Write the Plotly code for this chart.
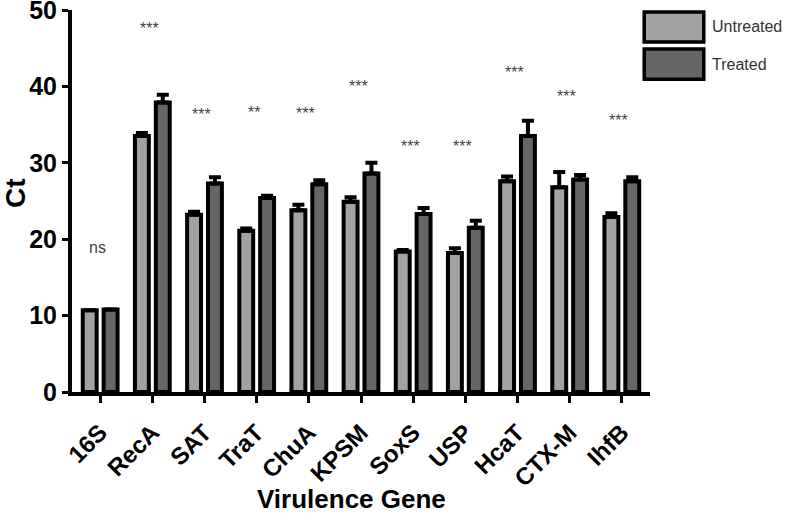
import plotly.graph_objects as go

genes = ["16S", "RecA", "SAT", "TraT", "ChuA", "KPSM", "SoxS", "USP", "HcaT", "CTX-M", "IhfB"]
untreated = [10.7, 33.5, 23.2, 21.1, 23.8, 24.9, 18.4, 18.2, 27.6, 26.8, 22.9]
treated = [10.8, 37.9, 27.3, 25.4, 27.2, 28.6, 23.3, 21.5, 33.5, 27.8, 27.6]
err_untreated = [0.0, 0.4, 0.4, 0.3, 0.7, 0.6, 0.2, 0.6, 0.6, 2.0, 0.5]
err_treated = [0.0, 1.0, 0.8, 0.3, 0.5, 1.4, 0.8, 0.9, 2.0, 0.6, 0.5]
sig_labels = ["ns", "***", "***", "**", "***", "***", "***", "***", "***", "***", "***"]
sig_y = [18.9, 48.1, 36.9, 37.1, 37.0, 40.5, 32.7, 32.7, 42.4, 39.2, 36.0]

FONT = "Liberation Sans, Arial, sans-serif"
C_UNT = "#a2a2a2"
C_TRT = "#666666"

fig = go.Figure()
fig.add_trace(go.Bar(
    name="Untreated", x=genes, y=untreated,
    marker=dict(color=C_UNT, line=dict(color="black", width=4)),
    error_y=dict(type="data", array=err_untreated, arrayminus=[0] * len(genes),
                 symmetric=False, color="black", thickness=4, width=6),
))
fig.add_trace(go.Bar(
    name="Treated", x=genes, y=treated,
    marker=dict(color=C_TRT, line=dict(color="black", width=4)),
    error_y=dict(type="data", array=err_treated, arrayminus=[0] * len(genes),
                 symmetric=False, color="black", thickness=4, width=6),
))

annotations = []
for g, lab, yy in zip(genes, sig_labels, sig_y):
    annotations.append(dict(
        x=g, y=yy, xref="x", yref="y", text=lab, showarrow=False,
        xshift=-3, yshift=(-4 if lab != "ns" else 0),
        font=dict(family=FONT, size=16, color="#444444"),
    ))

# legend (manual, large swatches)
leg_items = [("Untreated", C_UNT, 0.995, 0.916), ("Treated", C_TRT, 0.898, 0.819)]
shapes = []
for name, col, y1, y0 in leg_items:
    shapes.append(dict(type="rect", xref="paper", yref="paper",
                       x0=0.990, x1=1.093, y0=y0, y1=y1,
                       fillcolor=col, line=dict(color="black", width=3.5)))
    annotations.append(dict(x=1.104, y=(y0 + y1) / 2, xref="paper", yref="paper",
                            text=name, showarrow=False, xanchor="left", yanchor="middle",
                            font=dict(family=FONT, size=16, color="#333333")))

# axis titles
annotations.append(dict(x=0.484, y=-0.281, xref="paper", yref="paper", showarrow=False,
                        text="<b>Virulence Gene</b>", xanchor="center", yanchor="middle",
                        font=dict(family=FONT, size=26, color="black")))
annotations.append(dict(x=-0.097, y=0.521, xref="paper", yref="paper", showarrow=False,
                        text="<b>Ct</b>", textangle=-90, xanchor="center", yanchor="middle",
                        font=dict(family=FONT, size=28, color="black")))

fig.update_layout(
    width=787, height=516,
    margin=dict(l=72, r=137, t=10, b=124, autoexpand=False),
    plot_bgcolor="white", paper_bgcolor="white",
    barmode="group", bargap=0.2, bargroupgap=0.333,
    showlegend=False,
    annotations=annotations,
    shapes=shapes,
    font=dict(family=FONT, color="black"),
)
fig.update_xaxes(
    range=[-0.54, 10.54], automargin=False,
    showline=True, linewidth=4, linecolor="black",
    ticks="outside", ticklen=7, tickwidth=3, tickcolor="black",
    ticklabelstandoff=6,
    tickangle=-45, tickfont=dict(family=FONT, size=24, color="black", weight="bold"),
    showgrid=False, zeroline=False,
)
fig.update_yaxes(
    range=[0, 50], tickvals=[0, 10, 20, 30, 40, 50], automargin=False,
    ticklabeloverflow="allow",
    showline=True, linewidth=4, linecolor="black",
    ticks="outside", ticklen=6, tickwidth=3, tickcolor="black",
    tickfont=dict(family=FONT, size=25, color="black", weight="bold"),
    showgrid=False, zeroline=False,
)

fig.write_html("out.html", config={"displayModeBar": False},
               post_script="document.body.style.margin='0';")
